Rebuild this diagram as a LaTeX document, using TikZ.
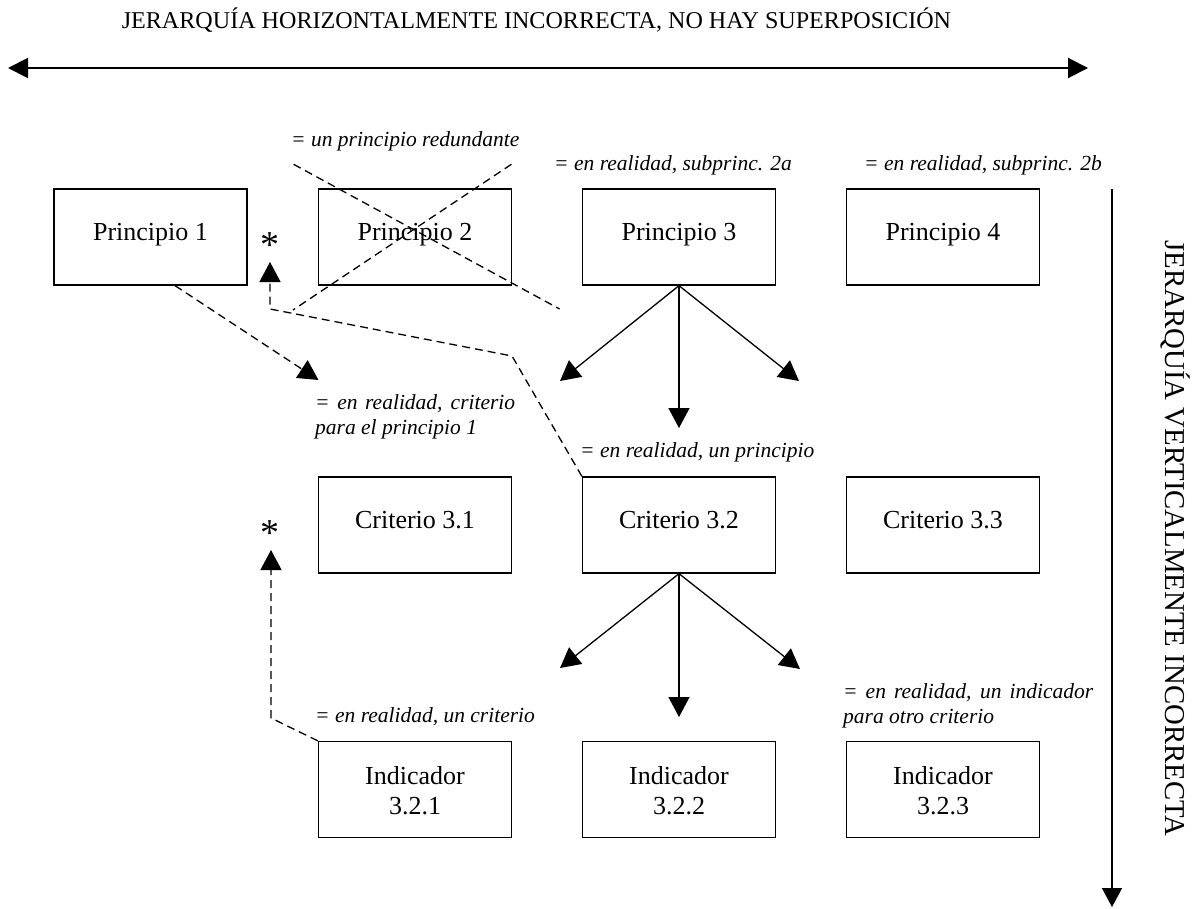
\documentclass[tikz,border=0pt]{standalone}
\usepackage{fontspec}
\setmainfont{Liberation Serif}
\usetikzlibrary{arrows.meta,calc}
\begin{document}
\begin{tikzpicture}[x=1pt,y=-1pt,
 box/.style={draw, line width=1.3pt, minimum width=193pt, minimum height=96pt, inner sep=0pt,
   font=\fontsize{26}{30}\selectfont, text height=18pt, text depth=12pt},
 ibox/.style={box, text depth=29pt},
 note/.style={font=\fontsize{21.5}{25.5}\selectfont\itshape, anchor=base west, inner sep=0pt},
 conn/.style={line width=1.3pt, -{Triangle[length=20pt,width=21pt]}},
 dline/.style={line width=1.3pt, dash pattern=on 8pt off 5pt},
 dconn/.style={conn, dash pattern=on 8pt off 5pt},
 ast/.style={font=\fontsize{38}{38}\selectfont, inner sep=0pt}
]
\useasboundingbox (0,0) rectangle (1193,908);

% titles
\node[font=\fontsize{24.1}{28}\selectfont, anchor=base, inner sep=0pt] (ht) at (536.5,28)
  {JERARQUÍA HORIZONTALMENTE INCORRECTA, NO HAY SUPERPOSICIÓN};
\node[font=\fontsize{28.8}{32}\selectfont, rotate=-90, anchor=mid, inner sep=0pt] (vtt) at (1168,538.5)
  {JERARQUÍA VERTICALMENTE INCORRECTA};

% axes
\coordinate (hl) at (8,68);
\coordinate (hr) at (1088,68);
\draw[line width=2pt, {Triangle[length=20pt,width=20pt]}-{Triangle[length=20pt,width=20pt]}] (hl) -- (hr);
\coordinate (vtop) at (1112,189);
\coordinate (vbot) at (1112,907);
\draw[line width=1.5pt, -{Triangle[length=19pt,width=20pt]}] (vtop) -- (vbot);

% boxes
\node[box] (p1) at (150.5,237) {Principio 1};
\node[box] (p2) at (415,237) {Principio 2};
\node[box] (p3) at (679,237) {Principio 3};
\node[box] (p4) at (943,237) {Principio 4};
\node[box] (c31) at (415,525) {Criterio 3.1};
\node[box] (c32) at (679,525) {Criterio 3.2};
\node[box] (c33) at (943,525) {Criterio 3.3};
\node[ibox] (i1) at (415,789.5) {\begin{tabular}[t]{@{}c@{}}Indicador\\3.2.1\end{tabular}};
\node[ibox] (i2) at (679,789.5) {\begin{tabular}[t]{@{}c@{}}Indicador\\3.2.2\end{tabular}};
\node[ibox] (i3) at (943,789.5) {\begin{tabular}[t]{@{}c@{}}Indicador\\3.2.3\end{tabular}};

% cross over Principio 2
\draw[dline] (293.6,164.3) -- (559.6,309);
\draw[dline] (511.4,164.3) -- (293,310);

% solid arrows
\coordinate (t1) at (560,381);
\coordinate (t2) at (679,428);
\coordinate (t3) at (799,381);
\draw[conn] (p3.south) -- (t1);
\draw[conn] (p3.south) -- (t2);
\draw[conn] (p3.south) -- (t3);
\coordinate (t4) at (560,668);
\coordinate (t5) at (679,717);
\coordinate (t6) at (800,669);
\draw[conn] (c32.south) -- (t4);
\draw[conn] (c32.south) -- (t5);
\draw[conn] (c32.south) -- (t6);

% dashed arrows
\coordinate (a1) at (318.5,380);
\draw[dconn] ($(p1.south)+(24.5,0)$) -- (a1);
\coordinate (e1) at (512,356);
\coordinate (e2) at (270,309);
\coordinate (a2) at (270,262);
\draw[dconn] (c32.north west) -- (e1) -- (e2) -- (a2);
\coordinate (e3) at (271,718);
\coordinate (a3) at (271,550);
\draw[dconn] (i1.north west) -- (e3) -- (a3);

% asterisks
\node[ast] (s1) at (270,245) {*};
\node[ast] (s2) at (270,533) {*};

% notes
\node[note] (n1) at (291,146) {= un principio redundante};
\node[note] (n2) at (554,170) {= en realidad, subprinc. 2a};
\node[note] (n3) at (864,170) {= en realidad, subprinc. 2b};
\node[note] (n4) at (315,409) {\begin{tabular}[t]{@{}l@{}}\makebox[200pt][s]{= en realidad, criterio}\\para el principio 1\end{tabular}};
\node[note] (n5) at (580,457) {= en realidad, un principio};
\node[note] (n6) at (315,722) {= en realidad, un criterio};
\node[note] (n7) at (843,698) {\begin{tabular}[t]{@{}l@{}}\makebox[250pt][s]{= en realidad, un indicador}\\para otro criterio\end{tabular}};
\end{tikzpicture}
\end{document}
